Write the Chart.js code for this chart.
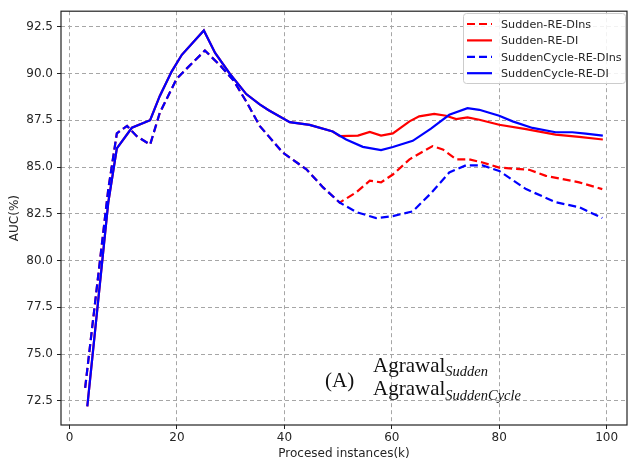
<!DOCTYPE html>
<html>
<head>
<meta charset="utf-8">
<script src="https://cdn.jsdelivr.net/npm/chart.js@4.4.0/dist/chart.umd.min.js"></script>
<style>
  html, body { margin: 0; padding: 0; background: #fff; }
  #wrap { width: 629px; height: 466px; position: relative; }
</style>
</head>
<body>
<div id="wrap"><canvas id="auc"></canvas></div>
<script>
// Sudden and SuddenCycle runs are identical until the drift (~50k), so they share a prefix
const sharedX_DI = [3.3, 7.2, 8.8, 11.6, 15.0, 16.8, 19.0, 20.9, 25.0, 27.1, 29.8, 32.9, 35.4, 37.0, 41.0, 44.7, 49.0];
const sharedY_DI = [72.2, 83.1, 86.0, 87.1, 87.5, 88.8, 90.1, 91.0, 92.3, 91.1, 90.0, 88.9, 88.35, 88.05, 87.4, 87.25, 86.9];

const sharedX_DIns = [2.9, 7.2, 8.8, 10.7, 12.5, 15.0, 16.8, 19.9, 21.8, 25.2, 28.0, 30.5, 32.9, 35.4, 39.7, 44.1, 47.2, 50.3];
const sharedY_DIns = [73.2, 83.8, 86.8, 87.2, 86.65, 86.2, 87.9, 89.7, 90.26, 91.23, 90.44, 89.64, 88.5, 87.2, 85.77, 84.88, 83.91, 83.1];

// tails after the drift
const suddenDI_x = [50.3, 53.7, 55.9, 58.0, 60.2, 63.3, 65.1, 67.9, 70.1, 72.0, 74.1, 76.3, 80.0, 85.0, 90.5, 94.9, 99.3];
const suddenDI_y = [86.65, 86.68, 86.88, 86.68, 86.8, 87.44, 87.71, 87.84, 87.74, 87.56, 87.65, 87.53, 87.26, 87.03, 86.73, 86.61, 86.47];

const suddenDIns_x = [53.4, 55.9, 58.0, 60.2, 63.3, 67.6, 69.5, 72.0, 74.4, 76.9, 80.0, 85.6, 88.7, 94.9, 99.2];
const suddenDIns_y = [83.65, 84.27, 84.18, 84.6, 85.41, 86.12, 85.94, 85.41, 85.41, 85.24, 84.97, 84.85, 84.53, 84.18, 83.82];

const cycleDI_x = [51.5, 54.6, 58.0, 60.2, 63.9, 67.3, 70.7, 74.1, 76.3, 80.0, 82.5, 86.2, 90.5, 93.6, 96.1, 99.3];
const cycleDI_y = [86.47, 86.08, 85.91, 86.07, 86.4, 87.05, 87.79, 88.15, 88.06, 87.74, 87.44, 87.09, 86.86, 86.86, 86.79, 86.68];

const cycleDIns_x = [53.4, 57.1, 60.2, 63.9, 67.3, 70.7, 73.8, 76.9, 80.0, 85.0, 90.5, 94.9, 99.2];
const cycleDIns_y = [82.59, 82.27, 82.38, 82.63, 83.6, 84.71, 85.09, 85.09, 84.79, 83.82, 83.12, 82.85, 82.27];

const xTicks = [0, 20, 40, 60, 80, 100];
const yTicks = [72.5, 75.0, 77.5, 80.0, 82.5, 85.0, 87.5, 90.0, 92.5];

const FONT = 'DejaVu Sans';
const TXT = '#262626';

function pts(xs, ys) {
    return xs.map((x, i) => ({ x: x, y: ys[i] }));
}

function series(label, color, dashed, order, xs, ys) {
    return {
        label: label,
        data: pts(xs, ys),
        borderColor: color,
        borderWidth: 2.2,
        borderDash: dashed ? [8, 4] : [],
        pointRadius: 0,
        tension: 0,
        fill: false,
        order: order
    };
}

// frame around the plot, like matplotlib spines
const framePlugin = {
    id: 'frame',
    afterDatasetsDraw(chart) {
        const a = chart.chartArea, ctx = chart.ctx;
        ctx.save();
        ctx.strokeStyle = '#222';
        ctx.lineWidth = 1.2;
        ctx.strokeRect(a.left, a.top, a.right - a.left, a.bottom - a.top);
        ctx.restore();
    }
};

// legend box in the upper right, drawn in dataset order
const legendPlugin = {
    id: 'boxLegend',
    afterDatasetsDraw(chart) {
        const ctx = chart.ctx;
        const bx = 463, by = 13, bw = 162, bh = 70;
        ctx.save();
        ctx.fillStyle = 'rgba(255,255,255,0.85)';
        ctx.strokeStyle = '#cccccc';
        ctx.lineWidth = 1;
        ctx.beginPath();
        ctx.roundRect(bx + 0.5, by + 0.5, bw, bh, 3);
        ctx.fill();
        ctx.stroke();
        ctx.font = '11.2px "' + FONT + '"';
        ctx.textBaseline = 'middle';
        chart.data.datasets.forEach((ds, i) => {
            const y = by + 11 + i * 16.4;
            ctx.strokeStyle = ds.borderColor;
            ctx.lineWidth = 2.2;
            ctx.setLineDash(ds.borderDash);
            ctx.beginPath();
            ctx.moveTo(467, y);
            ctx.lineTo(492, y);
            ctx.stroke();
            ctx.setLineDash([]);
            ctx.fillStyle = TXT;
            ctx.fillText(ds.label, 501, y + 1);
        });
        ctx.restore();
    }
};

// "(A) Agrawal_Sudden / Agrawal_SuddenCycle" label inside the plot
const notePlugin = {
    id: 'note',
    afterDatasetsDraw(chart) {
        const ctx = chart.ctx;
        ctx.save();
        ctx.fillStyle = '#111';
        ctx.textBaseline = 'alphabetic';
        ctx.font = '21px "Liberation Serif"';
        ctx.fillText('(A)', 325, 387);
        ctx.fillText('Agrawal', 373, 372);
        ctx.fillText('Agrawal', 373, 395);
        const w = ctx.measureText('Agrawal').width;
        ctx.font = 'italic 14.5px "Liberation Serif"';
        ctx.fillText('Sudden', 373 + w, 376);
        ctx.fillText('SuddenCycle', 373 + w, 400);
        ctx.restore();
    }
};

const gridCommon = {
    color: '#a6a6a6',
    lineWidth: 1,
    tickColor: '#222',
    tickLength: 4,
    tickWidth: 1
};

new Chart(document.getElementById('auc'), {
    type: 'line',
    data: {
        datasets: [
            series('Sudden-RE-DIns', '#ff0000', true, 4,
                sharedX_DIns.concat(suddenDIns_x), sharedY_DIns.concat(suddenDIns_y)),
            series('Sudden-RE-DI', '#ff0000', false, 3,
                sharedX_DI.concat(suddenDI_x), sharedY_DI.concat(suddenDI_y)),
            series('SuddenCycle-RE-DIns', '#0000ff', true, 2,
                sharedX_DIns.concat(cycleDIns_x), sharedY_DIns.concat(cycleDIns_y)),
            series('SuddenCycle-RE-DI', '#0000ff', false, 1,
                sharedX_DI.concat(cycleDI_x), sharedY_DI.concat(cycleDI_y))
        ]
    },
    options: {
        responsive: true,
        maintainAspectRatio: false,
        animation: false,
        devicePixelRatio: 1,
        layout: { padding: { top: 7, right: 2, left: 0, bottom: 0 } },
        plugins: {
            legend: { display: false },
            tooltip: { enabled: false }
        },
        scales: {
            x: {
                type: 'linear',
                min: -1.6,
                max: 103.8,
                afterBuildTicks: s => { s.ticks = xTicks.map(v => ({ value: v })); },
                afterFit: s => { s.height = 41; },
                ticks: {
                    font: { family: FONT, size: 12 },
                    color: TXT,
                    padding: 2,
                    maxRotation: 0,
                    autoSkip: false,
                    callback: v => String(v)
                },
                grid: gridCommon,
                border: { display: false, dash: [4, 3] },
                title: {
                    display: true,
                    text: 'Procesed instances(k)',
                    font: { family: FONT, size: 12 },
                    color: TXT,
                    padding: { top: 2, bottom: 5 }
                }
            },
            y: {
                type: 'linear',
                min: 71.21,
                max: 93.33,
                afterBuildTicks: s => { s.ticks = yTicks.map(v => ({ value: v })); },
                afterFit: s => { s.width = 61; },
                ticks: {
                    font: { family: FONT, size: 12 },
                    color: TXT,
                    padding: 4,
                    autoSkip: false,
                    callback: v => v.toFixed(1)
                },
                grid: gridCommon,
                border: { display: false, dash: [4, 3] },
                title: {
                    display: true,
                    text: 'AUC(%)',
                    font: { family: FONT, size: 12 },
                    color: TXT,
                    padding: { top: 8, bottom: 0 }
                }
            }
        }
    },
    plugins: [framePlugin, legendPlugin, notePlugin]
});
</script>
</body>
</html>
